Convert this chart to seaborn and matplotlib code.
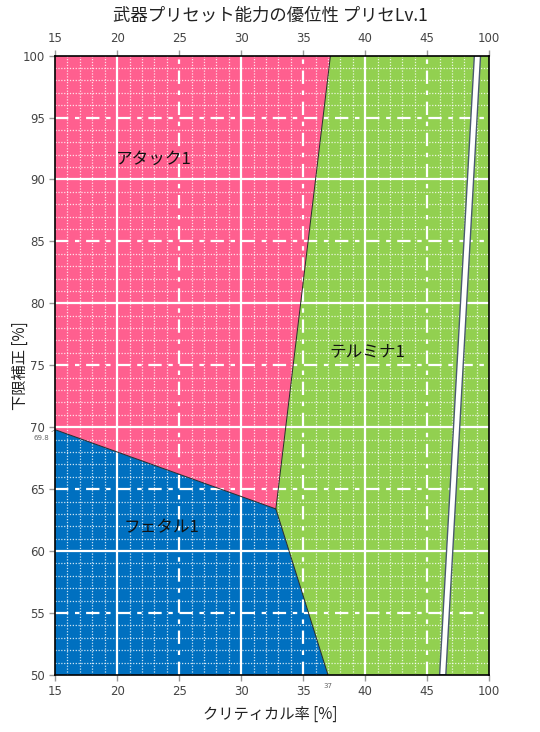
import numpy as np
import pandas as pd
import matplotlib
matplotlib.use("Agg")
import matplotlib.pyplot as plt
import seaborn as sns

# 軸の範囲 (x=50 は「100」として表示)
x_ticks = [15, 20, 25, 30, 35, 40, 45, 50]
x_tick_labels = ["15", "20", "25", "30", "35", "40", "45", "100"]
y_ticks = [50, 55, 60, 65, 70, 75, 80, 85, 90, 95, 100]

# 領域の境界点
triple_point = (32.8, 63.4)
attack_fetal_left = (15, 69.8)
attack_terumina_top = (37.2, 100)
fetal_terumina_bottom = (37.0, 50)
strip_top = [48.8, 49.3]
strip_bottom = [46.0, 46.5]

region_names = ["アタック1", "テルミナ1", "フェタル1"]
region_label_x = [23.0, 40.2, 23.6]
region_label_y = [91.6, 76.1, 61.9]
region_colors = ["#FF5F8F", "#92D050", "#0070C0"]

sns.set_theme(style="white")
plt.rcParams['font.family'] = ['Noto Sans CJK JP', 'DejaVu Sans']

fig = plt.figure(figsize=(5.4, 7.32), dpi=100)
ax = fig.add_axes([0.102, 0.078, 0.804, 0.846])

x0, x1 = 15, 50
y0, y1 = 50, 100
tx, ty = triple_point

attack = [(x0, y1), attack_terumina_top, triple_point, attack_fetal_left]
fetal = [attack_fetal_left, triple_point, fetal_terumina_bottom, (x0, y0)]
terumina = [attack_terumina_top, (x1, y1), (x1, y0), fetal_terumina_bottom, triple_point]
for poly, c in zip([attack, terumina, fetal], region_colors):
    xs, ys = zip(*poly)
    ax.fill(xs, ys, color=c, lw=0, zorder=1)

# 白い帯
ax.fill([strip_top[0], strip_top[1], strip_bottom[1], strip_bottom[0]],
        [y1, y1, y0, y0], facecolor="white", edgecolor="#4a5a70", lw=1.0, zorder=4)

# グリッド
for v in range(16, 50):
    if v % 5 == 0:
        continue
    ax.axvline(v, color="white", lw=0.9, ls=(0, (1, 1.3)), alpha=0.8, zorder=2)
for v in range(51, 100):
    if v % 5 == 0:
        continue
    ax.axhline(v, color="white", lw=0.9, ls=(0, (1, 1.3)), alpha=0.8, zorder=2)
for v in range(20, 50, 5):
    if v % 10 == 0:
        ax.axvline(v, color="white", lw=1.6, zorder=2)
    else:
        ax.axvline(v, color="white", lw=1.6, ls=(0, (6, 3, 2, 3)), zorder=2)
for v in range(55, 100, 5):
    if v % 10 == 0:
        ax.axhline(v, color="white", lw=1.6, zorder=2)
    else:
        ax.axhline(v, color="white", lw=1.6, ls=(0, (6, 3, 2, 3)), zorder=2)

# 境界線
bounds = pd.DataFrame({
    "x": [attack_fetal_left[0], tx, tx, attack_terumina_top[0], tx, fetal_terumina_bottom[0]],
    "y": [attack_fetal_left[1], ty, ty, attack_terumina_top[1], ty, fetal_terumina_bottom[1]],
    "seg": [0, 0, 1, 1, 2, 2],
})
sns.lineplot(data=bounds, x="x", y="y", units="seg", estimator=None, sort=False,
             color="#2a2a2a", lw=0.7, ax=ax, zorder=3)

for name, lx, ly in zip(region_names, region_label_x, region_label_y):
    ax.text(lx, ly, name, fontsize=12, color="#111111", ha="center", va="center", zorder=5)

ax.set_xlim(x0, x1)
ax.set_ylim(y0, y1)
ax.set_xticks(x_ticks)
ax.set_xticklabels(x_tick_labels)
ax.set_yticks(y_ticks)
ax.tick_params(axis="both", which="both", labelsize=8.5, labelcolor="#444444",
               color="#999999", length=4, width=1, direction="out",
               bottom=True, left=True, top=True, labeltop=True)
for lab in ax.get_xticklabels() + ax.get_yticklabels():
    lab.set_family("DejaVu Sans")
for s in ax.spines.values():
    s.set_color("black")
    s.set_linewidth(1.2)
    s.set_zorder(6)

ax.set_xlabel("")
ax.set_ylabel("")
fig.text(0.5, 0.024, "クリティカル率 [%]", ha="center", va="center", fontsize=11, color="#222222")
fig.text(0.037, 0.5, "下限補正 [%]", ha="center", va="center", rotation=90, fontsize=11, color="#222222")
fig.text(0.5, 0.978, "武器プリセット能力の優位性 プリセLv.1", ha="center", va="center",
         fontsize=12.5, color="#222222")

# 小さな注記
ax.annotate("69.8", xy=(x0, attack_fetal_left[1]), xytext=(-4, -6), textcoords="offset points",
            fontsize=5, color="#666666", ha="right", va="center", family="DejaVu Sans",
            annotation_clip=False,
            arrowprops=dict(arrowstyle="-", color="#888888", lw=0.5, shrinkA=0, shrinkB=0))
ax.annotate("37", xy=(fetal_terumina_bottom[0], y0), xytext=(0, -8), textcoords="offset points",
            fontsize=5, color="#666666", ha="center", va="center", family="DejaVu Sans",
            annotation_clip=False)

fig.savefig("out.png", dpi=100)
